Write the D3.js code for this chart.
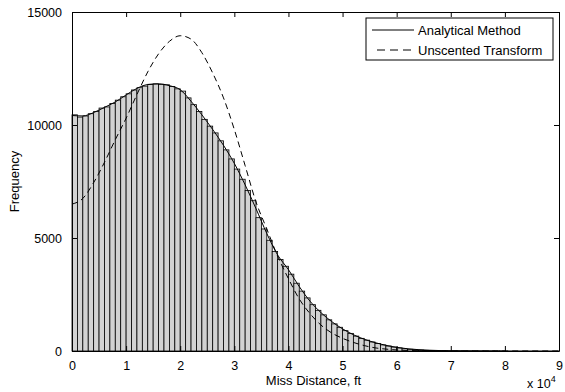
<!DOCTYPE html>
<html>
<head>
<meta charset="utf-8">
<script src="https://cdn.jsdelivr.net/npm/d3@7"></script>
<style>
  body { margin: 0; background: #fff; }
  text { font-family: "Liberation Sans", Arial, sans-serif; }
</style>
</head>
<body>
<svg id="chart" width="565" height="392"></svg>
<script>
// histogram counts, 1000 ft bins starting at 0
const binWidth = 1000
const counts = [
    10450, 10350, 10400, 10500, 10600, 10750, 10800, 10950, 11100, 11250,
    11380, 11550, 11650, 11720, 11800, 11820, 11800, 11780, 11700, 11600,
    11500, 11200, 10900, 10600, 10250, 9950, 9650, 9300, 8900, 8500,
    8050, 7600, 7100, 6650, 5900, 5400, 4900, 4400, 4050, 3750,
    3400, 3000, 2650, 2350, 2050, 1800, 1600, 1380, 1200, 1050,
    900, 780, 660, 560, 480, 400, 330, 270, 220, 175,
    135, 100, 75, 55, 40, 28, 20, 14, 10, 7,
    5, 4, 3, 2, 2, 1, 1, 1, 1, 1
]

// analytical curve, sampled every 2000 ft
const analyticX = [0, 2000, 4000, 6000, 8000, 10000, 12000, 14000, 16000, 18000,
    20000, 22000, 24000, 26000, 28000, 30000, 32000, 34000, 36000, 38000,
    40000, 42000, 44000, 46000, 48000, 50000, 52000, 54000, 56000, 58000,
    60000, 62000, 64000, 66000, 70000, 80000, 90000]
const analyticY = [10420, 10400, 10550, 10780, 11020, 11330, 11620, 11790, 11820, 11740,
    11560, 11050, 10450, 9800, 9100, 8300, 7350, 6300, 5200, 4250,
    3600, 2850, 2200, 1700, 1300, 980, 720, 520, 370, 250,
    160, 100, 60, 35, 12, 2, 0]

// unscented transform curve, same x samples
const unscentedY = [6500, 6750, 7450, 8350, 9350, 10300, 11350, 12350, 13150, 13700,
    13950, 13800, 13200, 12300, 11200, 9800, 8200, 6600, 5400, 4200,
    3200, 2300, 1650, 1150, 800, 560, 380, 240, 140, 85,
    45, 25, 12, 6, 1, 0, 0]

const xTicks = [0, 10000, 20000, 30000, 40000, 50000, 60000, 70000, 80000, 90000]
const yTicks = [0, 5000, 10000, 15000]

const margin = { top: 12, right: 6, bottom: 41, left: 72 }
const width = 565 - margin.left - margin.right
const height = 392 - margin.top - margin.bottom

const svg = d3.select("#chart")
const g = svg.append("g")
    .attr("transform", `translate(${margin.left},${margin.top})`)

const x = d3.scaleLinear().domain([0, 90000]).range([0, width])
const y = d3.scaleLinear().domain([0, 15000]).range([height, 0])

// bars
g.append("g")
    .selectAll("rect")
    .data(counts)
    .join("rect")
    .attr("x", (d, i) => x(i * binWidth))
    .attr("y", d => y(d))
    .attr("width", x(binWidth) - x(0))
    .attr("height", d => height - y(d))
    .attr("fill", "#d2d2d2")
    .attr("stroke", "#000")
    .attr("stroke-width", 0.8)

const line = d3.line()
    .x(d => x(d[0]))
    .y(d => y(d[1]))
    .curve(d3.curveMonotoneX)

g.append("path")
    .datum(analyticX.map((v, i) => [v, analyticY[i]]))
    .attr("d", line)
    .attr("fill", "none")
    .attr("stroke", "#000")
    .attr("stroke-width", 1)

g.append("path")
    .datum(analyticX.map((v, i) => [v, unscentedY[i]]))
    .attr("d", line)
    .attr("fill", "none")
    .attr("stroke", "#000")
    .attr("stroke-width", 1)
    .attr("stroke-dasharray", "6,4")

// axes box with inward ticks (matlab style)
const tick = 5
g.append("g")
    .attr("transform", `translate(0,${height})`)
    .call(d3.axisBottom(x).tickValues(xTicks).tickSizeInner(-tick).tickSizeOuter(0)
        .tickPadding(10).tickFormat(d => d / 10000))
g.append("g")
    .call(d3.axisTop(x).tickValues(xTicks).tickSizeInner(-tick).tickSizeOuter(0).tickFormat(""))
g.append("g")
    .call(d3.axisLeft(y).tickValues(yTicks).tickSizeInner(-tick).tickSizeOuter(0)
        .tickPadding(10).tickFormat(d3.format("d")))
g.append("g")
    .attr("transform", `translate(${width},0)`)
    .call(d3.axisRight(y).tickValues(yTicks).tickSizeInner(-tick).tickSizeOuter(0).tickFormat(""))

g.selectAll(".domain").attr("stroke", "#000")
g.selectAll(".tick line").attr("stroke", "#000")
g.selectAll(".tick text")
    .style("font-size", "12.5px")
    .attr("fill", "#000")

// axis labels
svg.append("text")
    .attr("x", margin.left + width / 2 - 2)
    .attr("y", 385)
    .attr("text-anchor", "middle")
    .style("font-size", "13px")
    .text("Miss Distance, ft")

svg.append("text")
    .attr("transform", `translate(19,${margin.top + height / 2}) rotate(-90)`)
    .attr("text-anchor", "middle")
    .style("font-size", "13px")
    .text("Frequency")

const expo = svg.append("text")
    .attr("x", 527)
    .attr("y", 388)
    .style("font-size", "12.5px")
expo.append("tspan").text("x 10")
expo.append("tspan").attr("dy", -6).style("font-size", "9px").text("4")

// legend
const legend = svg.append("g")
legend.append("rect")
    .attr("x", 366).attr("y", 18)
    .attr("width", 187).attr("height", 42)
    .attr("fill", "#fff")
    .attr("stroke", "#000")
    .attr("stroke-width", 1)

const legendItems = ["Analytical Method", "Unscented Transform"]
legendItems.forEach((name, i) => {
    const ly = 30 + i * 20
    legend.append("line")
        .attr("x1", i ? 377 : 372).attr("x2", 414)
        .attr("y1", ly).attr("y2", ly)
        .attr("stroke", "#000")
        .attr("stroke-dasharray", i ? "8,5" : null)
    legend.append("text")
        .attr("x", 418).attr("y", ly + 4.5)
        .style("font-size", "13px")
        .text(name)
})
</script>
</body>
</html>
